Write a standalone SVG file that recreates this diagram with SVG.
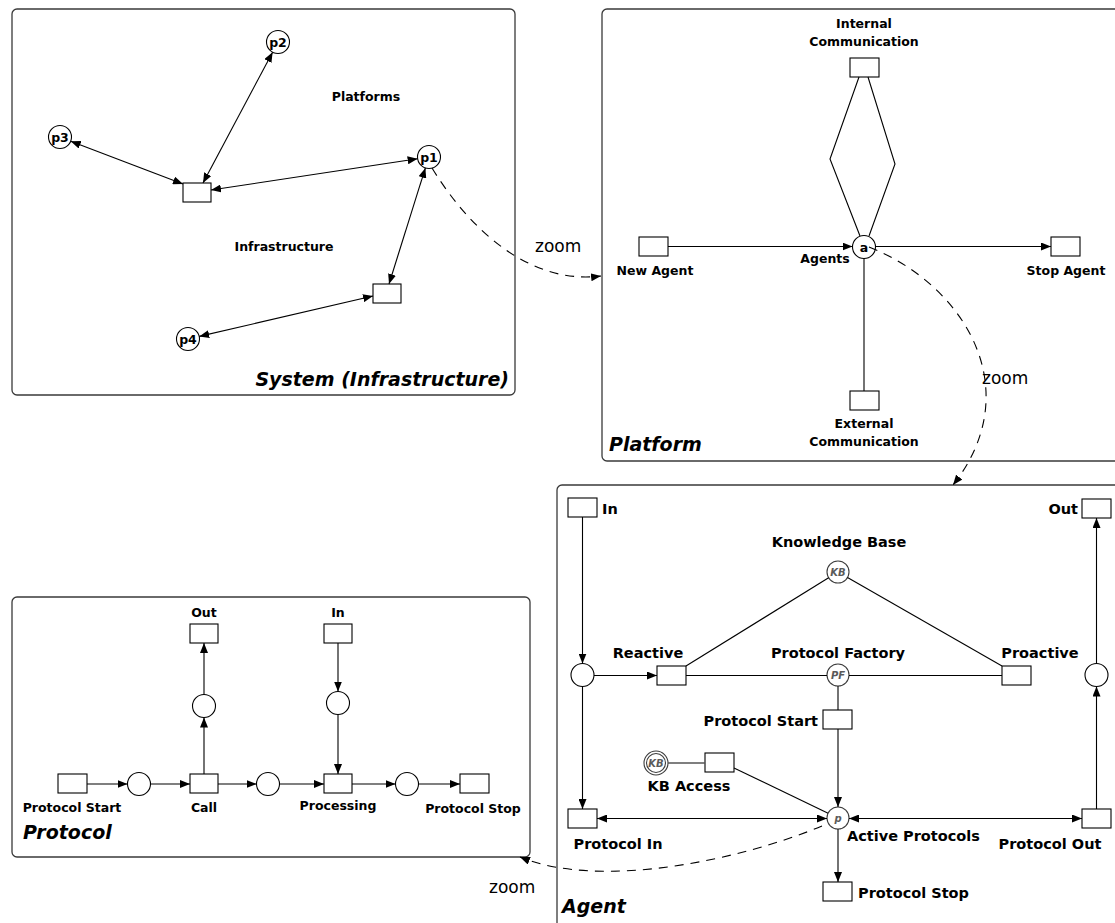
<svg xmlns="http://www.w3.org/2000/svg" width="1115" height="923" viewBox="0 0 1115 923">
  <style>
    .frame { fill: #ffffff; stroke: #3a3a3a; stroke-width: 1.3; }
    .tr { fill: #ffffff; stroke: #000000; stroke-width: 1.1; }
    .pl { fill: #ffffff; stroke: #000000; stroke-width: 1.1; }
    .plg { fill: #ffffff; stroke: #3c3c3c; stroke-width: 1.1; }
    .arc { fill: none; stroke: #000000; stroke-width: 1.1; }
    .arcg { fill: none; stroke: #555555; stroke-width: 1.6; }
    .dash { fill: none; stroke: #000000; stroke-width: 1.1; stroke-dasharray: 9 7; }
    .lb { font-family: "DejaVu Sans", Verdana, sans-serif; font-weight: bold; fill: #000000; }
    .s12 { font-size: 12.5px; }
    .s14 { font-size: 14.5px; }
    .mid { text-anchor: middle; }
    .end { text-anchor: end; }
    .title { font-family: "DejaVu Sans", Verdana, sans-serif; font-weight: bold; font-style: italic; font-size: 19px; fill: #000000; }
    .tok { font-family: "DejaVu Sans", Verdana, sans-serif; font-style: italic; font-weight: bold; font-size: 10px; fill: #5a5a5a; text-anchor: middle; }
    .zl { font-family: "DejaVu Sans", Verdana, sans-serif; font-size: 17px; fill: #000000; }
  </style>
  <defs>
    <marker id="ah" viewBox="0 0 10 8" refX="10" refY="4" markerWidth="10" markerHeight="8" markerUnits="userSpaceOnUse" orient="auto-start-reverse">
      <path d="M0,0 L10,4 L0,8 z" fill="#000000"/>
    </marker>
  </defs>

  <!-- System (Infrastructure) frame -->
  <g id="system">
    <rect class="frame" x="12" y="9" width="503" height="386" rx="5"/>
    <text class="lb s12 mid" x="366" y="101">Platforms</text>
    <text class="lb s12 mid" x="284" y="251">Infrastructure</text>
    <text class="title end" x="509" y="386">System (Infrastructure)</text>
  </g>
  <g id="sys-p2"><circle class="pl" cx="278" cy="42" r="11.5"/><text class="lb s12 mid" x="278" y="46.5">p2</text></g>
  <g id="sys-p3"><circle class="pl" cx="60" cy="137" r="11.5"/><text class="lb s12 mid" x="60" y="141.5">p3</text></g>
  <g id="sys-p1"><circle class="pl" cx="429" cy="157" r="11.5"/><text class="lb s12 mid" x="429" y="161.5">p1</text></g>
  <g id="sys-p4"><circle class="pl" cx="188" cy="339" r="11.5"/><text class="lb s12 mid" x="188" y="343.5">p4</text></g>
  <g id="sys-t1"><rect class="tr" x="183" y="183" width="28" height="19"/></g>
  <g id="sys-t2"><rect class="tr" x="373" y="284" width="28" height="19"/></g>

  <!-- Platform frame -->
  <g id="platform">
    <rect class="frame" x="602" y="9" width="530" height="452" rx="5"/>
    <text class="title" x="609" y="451">Platform</text>
  </g>
  <g id="pf-internal">
    <rect class="tr" x="850" y="58" width="29" height="19"/>
    <text class="lb s12 mid" x="864" y="28">Internal</text>
    <text class="lb s12 mid" x="864" y="46">Communication</text>
  </g>
  <g id="pf-agents">
    <circle class="pl" cx="864" cy="247" r="11.5"/>
    <text class="lb s12 mid" x="864" y="251.5">a</text>
    <text class="lb s12 mid" x="825" y="263">Agents</text>
  </g>
  <g id="pf-new-agent">
    <rect class="tr" x="639" y="237" width="29" height="19"/>
    <text class="lb s12 mid" x="655" y="275">New Agent</text>
  </g>
  <g id="pf-stop-agent">
    <rect class="tr" x="1051" y="237" width="29" height="19"/>
    <text class="lb s12 mid" x="1066" y="275">Stop Agent</text>
  </g>
  <g id="pf-external">
    <rect class="tr" x="850" y="391" width="29" height="19"/>
    <text class="lb s12 mid" x="864" y="428">External</text>
    <text class="lb s12 mid" x="864" y="446">Communication</text>
  </g>

  <!-- Agent frame -->
  <g id="agent">
    <rect class="frame" x="557" y="485" width="580" height="450" rx="5"/>
    <text class="title" x="562" y="913">Agent</text>
  </g>
  <g id="ag-in"><rect class="tr" x="568" y="498" width="29" height="19"/><text class="lb s14" x="602" y="514">In</text></g>
  <g id="ag-out"><rect class="tr" x="1082" y="499" width="29" height="19"/><text class="lb s14 end" x="1078" y="514">Out</text></g>
  <g id="ag-input-place"><circle class="pl" cx="582.5" cy="675" r="11.5"/></g>
  <g id="ag-reactive"><rect class="tr" x="657" y="666" width="29" height="19"/><text class="lb s14 mid" x="648" y="658">Reactive</text></g>
  <g id="ag-kb">
    <circle class="plg" cx="838" cy="572" r="11"/>
    <text class="tok" x="838" y="575.5">KB</text>
    <text class="lb s14 mid" x="839" y="547">Knowledge Base</text>
  </g>
  <g id="ag-pf">
    <circle class="plg" cx="838" cy="675" r="11"/>
    <text class="tok" x="838" y="678.5">PF</text>
    <text class="lb s14 mid" x="838" y="658">Protocol Factory</text>
  </g>
  <g id="ag-proactive"><rect class="tr" x="1002" y="666" width="29" height="19"/><text class="lb s14 mid" x="1040" y="658">Proactive</text></g>
  <g id="ag-output-place"><circle class="pl" cx="1096.5" cy="675" r="11.5"/></g>
  <g id="ag-protocol-start"><rect class="tr" x="823" y="710" width="29" height="19"/><text class="lb s14 end" x="818" y="726">Protocol Start</text></g>
  <g id="ag-kb-access">
    <circle class="plg" cx="656" cy="763" r="12"/>
    <circle class="plg" cx="656" cy="763" r="9.5"/>
    <text class="tok" x="656" y="766.5">KB</text>
    <rect class="tr" x="705" y="753" width="29" height="19"/>
    <text class="lb s14 mid" x="689" y="791">KB Access</text>
  </g>
  <g id="ag-active">
    <circle class="plg" cx="838" cy="818" r="11"/>
    <text class="tok" x="838" y="821.5">p</text>
    <text class="lb s14" x="847" y="841">Active Protocols</text>
  </g>
  <g id="ag-protocol-in"><rect class="tr" x="568" y="809" width="29" height="19"/><text class="lb s14 mid" x="618" y="849">Protocol In</text></g>
  <g id="ag-protocol-out"><rect class="tr" x="1082" y="809" width="29" height="19"/><text class="lb s14 mid" x="1050" y="849">Protocol Out</text></g>
  <g id="ag-protocol-stop"><rect class="tr" x="823" y="882" width="29" height="19"/><text class="lb s14" x="858" y="898">Protocol Stop</text></g>

  <!-- Protocol frame -->
  <g id="protocol">
    <rect class="frame" x="12" y="597" width="518" height="260" rx="5"/>
    <text class="title" x="23" y="839">Protocol</text>
  </g>
  <g id="pr-out"><rect class="tr" x="190" y="624" width="28" height="19"/><text class="lb s12 mid" x="204" y="617">Out</text></g>
  <g id="pr-call-place"><circle class="pl" cx="204" cy="706" r="11.5"/></g>
  <g id="pr-in"><rect class="tr" x="324" y="624" width="28" height="19"/><text class="lb s12 mid" x="338" y="617">In</text></g>
  <g id="pr-reply-place"><circle class="pl" cx="338" cy="703" r="11.5"/></g>
  <g id="pr-start"><rect class="tr" x="58" y="774" width="29" height="19"/><text class="lb s12 mid" x="72" y="812">Protocol Start</text></g>
  <g id="pr-p1"><circle class="pl" cx="139" cy="784" r="11.5"/></g>
  <g id="pr-call"><rect class="tr" x="190" y="774" width="28" height="19"/><text class="lb s12 mid" x="204" y="812">Call</text></g>
  <g id="pr-p2"><circle class="pl" cx="268" cy="784" r="11.5"/></g>
  <g id="pr-processing"><rect class="tr" x="324" y="774" width="28" height="19"/><text class="lb s12 mid" x="338" y="810">Processing</text></g>
  <g id="pr-p3"><circle class="pl" cx="407" cy="784" r="11.5"/></g>
  <g id="pr-stop"><rect class="tr" x="460" y="774" width="29" height="19"/><text class="lb s12 mid" x="473" y="813">Protocol Stop</text></g>

  <!-- arcs -->
  <g id="connectors">
    <!-- system -->
    <path class="arc" d="M70.7,141.2 L183,184" marker-start="url(#ah)" marker-end="url(#ah)"/>
    <path class="arc" d="M272.6,52.2 L203,183" marker-start="url(#ah)" marker-end="url(#ah)"/>
    <path class="arc" d="M417.6,158.8 L211,190" marker-start="url(#ah)" marker-end="url(#ah)"/>
    <path class="arc" d="M425.4,167.9 L389,284" marker-start="url(#ah)" marker-end="url(#ah)"/>
    <path class="arc" d="M199.2,336.4 L373,296" marker-start="url(#ah)" marker-end="url(#ah)"/>

    <!-- platform -->
    <path class="arc" d="M859,77 L830,159 L860,236"/>
    <path class="arc" d="M868,77 L895,164 L869,236"/>
    <path class="arc" d="M668,246.5 L852.5,246.5" marker-end="url(#ah)"/>
    <path class="arc" d="M875.5,246.5 L1051,246.5" marker-end="url(#ah)"/>
    <path class="arc" d="M864,258.5 L864,391"/>

    <!-- agent -->
    <path class="arc" d="M582.5,517 L582.5,663.5" marker-end="url(#ah)"/>
    <path class="arc" d="M594,675.5 L657,675.5" marker-end="url(#ah)"/>
    <path class="arc" d="M582.5,686.5 L582.5,809" marker-end="url(#ah)"/>
    <path class="arc" d="M686,666 L828.6,577.8"/>
    <path class="arc" d="M686,675.5 L827,675.5"/>
    <path class="arc" d="M849,675.5 L1002,675.5"/>
    <path class="arc" d="M847.5,577.5 L1002,666"/>
    <path class="arc" d="M838,686 L838,710"/>
    <path class="arc" d="M838,729 L838,807" marker-end="url(#ah)"/>
    <path class="arcg" d="M668,763 L705,763"/>
    <path class="arc" d="M734,768 L828.1,813.2"/>
    <path class="arc" d="M597,818.5 L827,818.5" marker-start="url(#ah)" marker-end="url(#ah)"/>
    <path class="arc" d="M849,818.5 L1082,818.5" marker-start="url(#ah)" marker-end="url(#ah)"/>
    <path class="arc" d="M1096.5,809 L1096.5,686.5" marker-end="url(#ah)"/>
    <path class="arc" d="M1096.5,663.5 L1096.5,518" marker-end="url(#ah)"/>
    <path class="arc" d="M838,829 L838,882" marker-end="url(#ah)"/>

    <!-- protocol -->
    <path class="arc" d="M87,784 L127.5,784" marker-end="url(#ah)"/>
    <path class="arc" d="M150.5,784 L190,784" marker-end="url(#ah)"/>
    <path class="arc" d="M218,784 L256.5,784" marker-end="url(#ah)"/>
    <path class="arc" d="M279.5,784 L324,784" marker-end="url(#ah)"/>
    <path class="arc" d="M352,784 L395.5,784" marker-end="url(#ah)"/>
    <path class="arc" d="M418.5,784 L460,784" marker-end="url(#ah)"/>
    <path class="arc" d="M204,774 L204,717.5" marker-end="url(#ah)"/>
    <path class="arc" d="M204,694.5 L204,643" marker-end="url(#ah)"/>
    <path class="arc" d="M338,643 L338,691.5" marker-end="url(#ah)"/>
    <path class="arc" d="M338,714.5 L338,774" marker-end="url(#ah)"/>

    <!-- zoom links between levels -->
    <path class="dash" d="M432,168 C470,230 530,285 601,276" marker-end="url(#ah)"/>
    <path class="dash" d="M869,247 C965,285 1028,390 953,485" marker-end="url(#ah)"/>
    <path class="dash" d="M822,826 C740,860 600,890 520,857" marker-end="url(#ah)"/>
  </g>
  <g id="zoom-labels">
    <text class="zl" x="535" y="252">zoom</text>
    <text class="zl" x="982" y="384">zoom</text>
    <text class="zl" x="489" y="893">zoom</text>
  </g>
</svg>
